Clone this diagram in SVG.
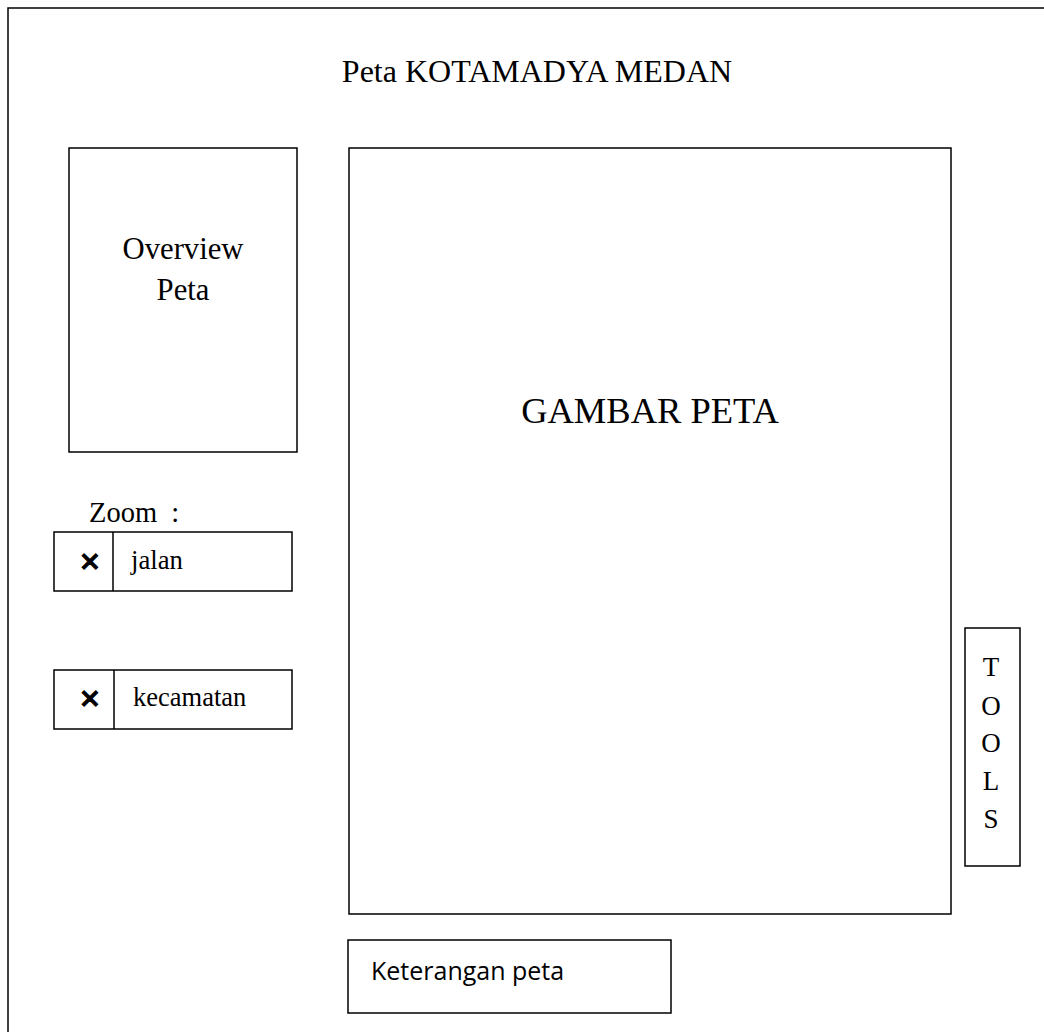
<svg xmlns="http://www.w3.org/2000/svg" width="1044" height="1032" viewBox="0 0 1044 1032">
<style>
.b{fill:#fff;stroke:#000;stroke-width:1.5}
.s{font-family:"Liberation Serif","Times New Roman",serif;fill:#000}
.x{font-family:"DejaVu Sans",sans-serif;font-weight:bold;fill:#000;stroke:#000;stroke-width:1.3}
</style>
<rect width="1044" height="1032" fill="#fff"/>
<g id="frame"><rect class="b" x="8" y="8" width="1060" height="1060"/>
<text class="s" x="537" y="82" font-size="32" text-anchor="middle">Peta KOTAMADYA MEDAN</text></g>
<g id="overview"><rect class="b" x="69" y="148" width="228" height="304"/>
<text class="s" x="183" y="259" font-size="30.7" text-anchor="middle">Overview</text>
<text class="s" x="183" y="300" font-size="30.7" text-anchor="middle">Peta</text></g>
<g id="gambar"><rect class="b" x="349" y="148" width="602" height="766"/>
<text class="s" x="650" y="423" font-size="36.5" text-anchor="middle">GAMBAR PETA</text></g>
<g id="zoom"><text class="s" x="89" y="522" font-size="28.5" xml:space="preserve">Zoom  :</text></g>
<g id="jalan"><rect class="b" x="54" y="532" width="238" height="59"/>
<line x1="113" y1="532" x2="113" y2="591" stroke="#000" stroke-width="1.5"/>
<text class="x" x="90" y="571" font-size="26" text-anchor="middle">✕</text>
<text class="s" x="131" y="569" font-size="26.7">jalan</text></g>
<g id="kecamatan"><rect class="b" x="54" y="670" width="238" height="59"/>
<line x1="114" y1="670" x2="114" y2="729" stroke="#000" stroke-width="1.5"/>
<text class="x" x="90" y="708" font-size="26" text-anchor="middle">✕</text>
<text class="s" x="133" y="706" font-size="26.5">kecamatan</text></g>
<g id="tools"><rect class="b" x="965" y="628" width="55" height="238"/>
<g class="s" font-size="27" text-anchor="middle">
<text x="991" y="676">T</text><text x="991" y="715">O</text><text x="991" y="752">O</text><text x="991" y="790">L</text><text x="991" y="828">S</text></g></g>
<g id="keterangan"><rect class="b" x="348" y="940" width="323" height="73"/>
<text x="371" y="980" font-size="25" font-family="'Open Sans','Liberation Sans',sans-serif" fill="#000">Keterangan peta</text></g>
<g id="connectors"/>
</svg>
